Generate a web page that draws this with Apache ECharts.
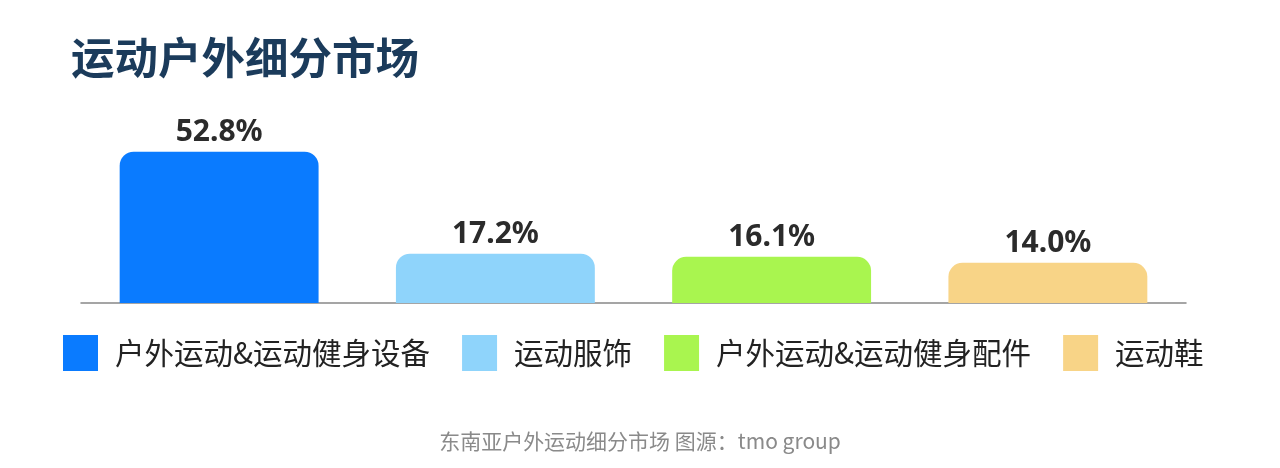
<!DOCTYPE html>
<html>
<head>
<meta charset="utf-8">
<script src="https://cdn.jsdelivr.net/npm/echarts@6/dist/echarts.min.js"></script>
<style>
  html, body { margin: 0; padding: 0; background: #fff; }
  #main { width: 1280px; height: 468px; }
</style>
</head>
<body>
<div id="main"></div>
<script>
// 数据
const categories = ["户外运动&运动健身设备", "运动服饰", "户外运动&运动健身配件", "运动鞋"];
const values = [52.8, 17.2, 16.1, 14.0];
const colors = ["#0a7bff", "#8fd4fb", "#a9f54f", "#f8d487"];

const myChart = echarts.init(document.getElementById("main"));

// 每个分类一个系列，方便图例显示
const series = categories.map((name, i) => ({
  name: name,
  type: "bar",
  stack: "all",
  barWidth: "72%",
  itemStyle: { color: colors[i], borderRadius: [14, 14, 0, 0] },
  label: {
    show: true,
    position: "top",
    distance: 4,
    formatter: (p) => p.value.toFixed(1) + "%",
    fontSize: 30,
    fontWeight: "bold",
    color: "#2b2b2b",
    fontFamily: "Noto Sans",
  },
  data: categories.map((c, j) => (j === i ? values[i] : "-")),
}));

const option = {
  backgroundColor: "#fff",
  animation: false,
  title: [
    {
      text: "运动户外细分市场",
      left: 66,
      top: 31,
      textStyle: {
        fontSize: 43.5,
        fontWeight: "bold",
        color: "#1b3b5b",
        fontFamily: "Noto Sans CJK SC",
      },
    },
    {
      text: "东南亚户外运动细分市场 图源：tmo group",
      left: "center",
      top: 426,
      textStyle: {
        fontSize: 21,
        fontWeight: "normal",
        color: "#8a8a8a",
        fontFamily: "Noto Sans CJK SC",
      },
    },
  ],
  legend: {
    left: 58,
    top: 330,
    icon: "rect",
    itemWidth: 35,
    itemHeight: 36,
    itemGap: 32,
    textStyle: {
      fontSize: 29.5,
      color: "#222",
      fontFamily: "Noto Sans CJK SC",
      padding: [0, 0, 0, 12],
    },
    data: categories,
  },
  grid: { left: 81, right: 94, top: 131, bottom: 165 },
  xAxis: {
    type: "category",
    data: categories,
    axisLine: { lineStyle: { color: "#888", width: 1.5 } },
    axisTick: { show: false },
    axisLabel: { show: false },
  },
  yAxis: {
    type: "value",
    min: 0,
    max: 60,
    show: false,
    splitLine: { show: false },
  },
  series: series,
};

myChart.setOption(option);
</script>
</body>
</html>
